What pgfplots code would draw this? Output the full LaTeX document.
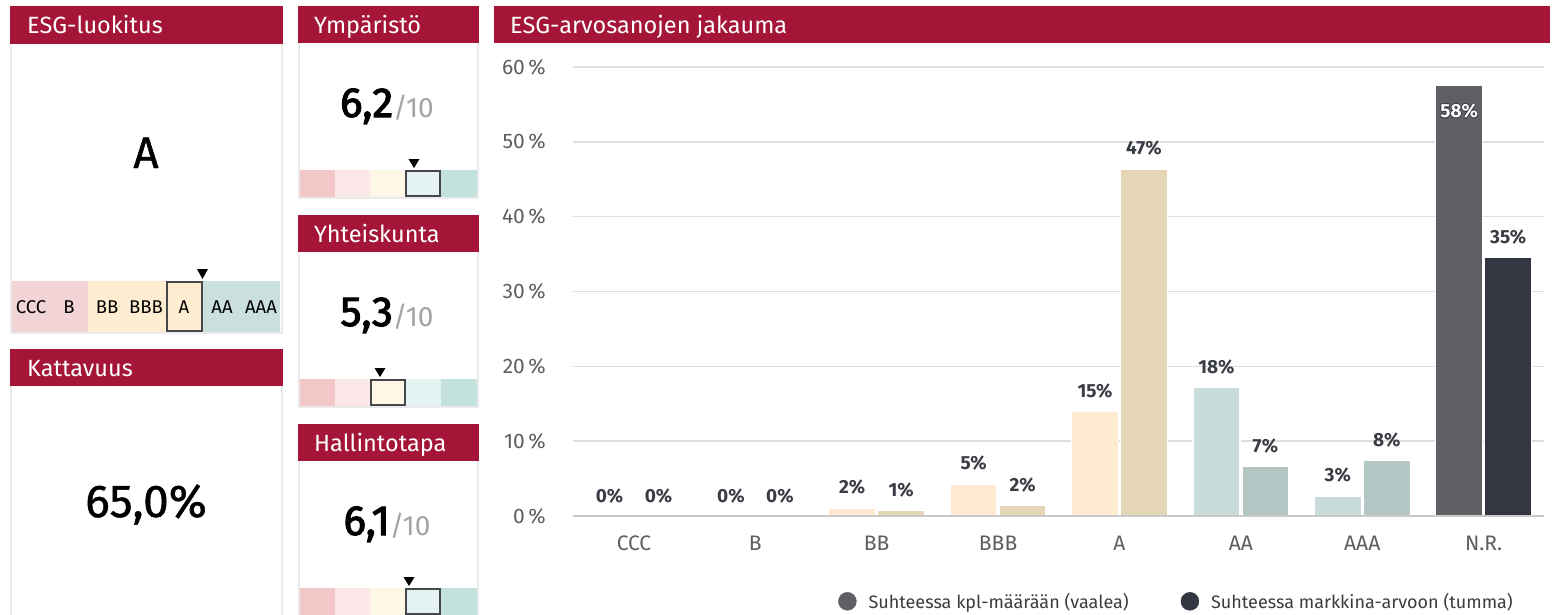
\documentclass[border=0pt]{standalone}
\usepackage{pgfplots}
\pgfplotsset{compat=1.18}
\usepackage{pgfplotstable}
\usepackage{fontspec}
\usepackage{contour}
\setmainfont{Fira Sans}
\newfontfamily\medfont[FakeBold=2.6]{Fira Sans}
\newfontfamily\bigfont[FakeBold=1]{Fira Sans}

\definecolor{crimson}{HTML}{A41538}
\definecolor{frame}{HTML}{EAEAEA}
\definecolor{gridc}{HTML}{DEDEDE}
\definecolor{basec}{HTML}{C9C9C9}
\definecolor{tickc}{HTML}{5E5E5E}
\definecolor{labc}{HTML}{393C44}
\definecolor{legc}{HTML}{3C3C3C}
\definecolor{creamL}{HTML}{FFEBCF}
\definecolor{creamD}{HTML}{E5D6B6}
\definecolor{tealL}{HTML}{C8DDDB}
\definecolor{tealD}{HTML}{B3C7C5}
\definecolor{nrL}{HTML}{5F5F65}
\definecolor{nrD}{HTML}{333741}
\definecolor{slash}{HTML}{A3A3A3}
\definecolor{boxc}{HTML}{45474C}
\definecolor{sPink}{HTML}{F3D4D6}
\definecolor{sCream}{HTML}{FFEDD1}
\definecolor{sTeal}{HTML}{CAE0DE}
\definecolor{sA}{HTML}{F3C6C8}
\definecolor{sB}{HTML}{FBE7E7}
\definecolor{sC}{HTML}{FFF7E5}
\definecolor{sD}{HTML}{E4F2F1}
\definecolor{sE}{HTML}{C3E1DD}

\newcommand\hdr{\fontsize{23.5}{26}\selectfont}
\newcommand\ticks{\fontsize{21}{24}\selectfont}
\newcommand\vals{\bfseries\fontsize{19}{22}\selectfont}
\newcommand\legf{\fontsize{18}{20}\selectfont}

% share of holdings per ESG rating, by count (light) and by market value (dark)
\pgfplotstableread{
x  light dark llab dlab
0  0     0    0    0
1  0     0    0    0
2  1.1   0.8  2    1
3  4.3   1.4  5    2
4  14.0  46.4 15   47
5  17.2  6.6  18   7
6  2.7   7.5  3    8
7  57.6  34.6 58   35
}\esgdata

% small score panel: top y, title, value, boxed segment left x, marker x
\newcommand\subpanel[5]{%
  \fill[crimson] (298,{-#1}) rectangle (479,{-#1-37});
  \node[anchor=base west, inner sep=0, text=white, font=\hdr] at (314,{-#1-27}) {#2};
  \draw[frame, line width=2] (299,{-#1-37}) -- (299,{-#1-192}) -- (477.5,{-#1-192}) -- (477.5,{-#1-37});
  \node[anchor=base, inner sep=0] at (387,{-#1-111})
    {{\medfont\fontsize{42}{46}\selectfont #3}{\fontsize{28}{32}\selectfont\color{slash}/10}};
  \fill[sA] (300,{-#1-164}) rectangle (335,{-#1-191});
  \fill[sB] (335,{-#1-164}) rectangle (370,{-#1-191});
  \fill[sC] (370,{-#1-164}) rectangle (405,{-#1-191});
  \fill[sD] (405,{-#1-164}) rectangle (441,{-#1-191});
  \fill[sE] (441,{-#1-164}) rectangle (477,{-#1-191});
  \draw[boxc, line width=1.8] (#4+1,{-#1-165}) rectangle (#4+35,{-#1-190});
  \fill (#5-5.5,{-#1-153}) -- (#5+5.5,{-#1-153}) -- (#5,{-#1-162}) -- cycle;
}

\begin{document}
\begin{tikzpicture}
\useasboundingbox (0,0) rectangle (1554pt,-614pt);
\clip (0,0) rectangle (1554pt,-614pt);
\fill[white] (0,0) rectangle (1554pt,-614pt);

\begin{scope}[x=1pt, y=1pt]
  % ESG-luokitus
  \fill[crimson] (10,-6) rectangle (283,-44);
  \node[anchor=base west, inner sep=0, text=white, font=\hdr] at (27,-33) {ESG-luokitus};
  \draw[frame, line width=2] (11,-44) -- (11,-333) -- (282,-333) -- (282,-44);
  \node[anchor=base, inner sep=0, font=\bigfont\fontsize{44}{48}\selectfont] at (146,-168) {A};
  \fill[sPink] (12,-281) rectangle (88,-332);
  \fill[sCream] (88,-281) rectangle (202,-332);
  \fill[sTeal] (202,-281) rectangle (280,-332);
  \draw[boxc, line width=1.8] (166.9,-282) rectangle (202,-331);
  \fill (197,-269) -- (208,-269) -- (202.5,-279) -- cycle;
  \foreach \lab/\xx in {CCC/31, B/69, BB/107, BBB/146, A/184, AA/222, AAA/261}
    \node[anchor=base, inner sep=0, font=\fontsize{18.5}{20}\selectfont] at (\xx,-313) {\lab};

  % Kattavuus
  \fill[crimson] (10,-349) rectangle (283,-386);
  \node[anchor=base west, inner sep=0, text=white, font=\hdr] at (27,-376) {Kattavuus};
  \draw[frame, line width=2] (11,-386) -- (11,-620) (282,-620) -- (282,-386);
  \node[anchor=base, inner sep=0, font=\bigfont\fontsize{46}{50}\selectfont] at (146,-517) {65,0\%};

  % sub-scores
  \subpanel{6}{Ympäristö}{6,2}{405}{414}
  \subpanel{215}{Yhteiskunta}{5,3}{370}{380}
  \subpanel{424}{Hallintotapa}{6,1}{405}{409}

  % chart header
  \fill[crimson] (494,-6) rectangle (1550,-43);
  \node[anchor=base west, inner sep=0, text=white, font=\hdr] at (510,-33) {ESG-arvosanojen jakauma};
\end{scope}

\begin{axis}[
  at={(573.3pt,-516pt)}, anchor=south west,
  scale only axis, width=971pt, height=449pt,
  xmin=-0.5, xmax=7.5, ymin=0, ymax=60,
  ybar, bar width=47pt,
  axis line style={draw=none}, tick style={draw=none},
  ytick={0,10,...,60},
  yticklabels={0\,\%,10\,\%,20\,\%,30\,\%,40\,\%,50\,\%,60\,\%},
  xtick={0,...,7},
  xticklabels={CCC,B,BB,BBB,A,AA,AAA,N.R.},
  ymajorgrids, grid style={gridc, line width=1.6pt},
  tick label style={font=\ticks, text=tickc},
  yticklabel style={xshift=-24pt},
  xticklabel style={yshift=-12pt},
  point meta=explicit symbolic,
  nodes near coords={\pgfplotspointmeta\%},
  every node near coord/.append style={font=\vals, text=labc, yshift=9pt},
  legend columns=2,
  legend style={draw=none, fill=none, inner sep=0pt, font=\legf, text=legc,
    at={(0.2726,-0.19)}, anchor=west,
    /tikz/every odd column/.append style={column sep=10pt},
    /tikz/every even column/.append style={column sep=50pt}},
  clip=false,
]
\addlegendimage{legend image code/.code={\fill[nrL] (9pt,0pt) circle (9pt);}}
\addlegendentry{Suhteessa kpl-määrään (vaalea)}
\addlegendimage{legend image code/.code={\fill[nrD] (9pt,0pt) circle (9pt);}}
\addlegendentry{Suhteessa markkina-arvoon (tumma)}

\addplot[forget plot, draw=none, fill=none, bar shift=-24.5pt, restrict x to domain=0:1]
  table[x=x, y=light, meta=llab] {\esgdata};
\addplot[forget plot, draw=none, fill=none, bar shift=24.5pt, restrict x to domain=0:1]
  table[x=x, y=dark, meta=dlab] {\esgdata};

\addplot[forget plot, fill=creamL, draw=white, line width=1.5pt, bar shift=-24.5pt, restrict x to domain=2:4]
  table[x=x, y=light, meta=llab] {\esgdata};
\addplot[forget plot, fill=creamD, draw=white, line width=1.5pt, bar shift=24.5pt, restrict x to domain=2:4]
  table[x=x, y=dark, meta=dlab] {\esgdata};

\addplot[forget plot, fill=tealL, draw=white, line width=1.5pt, bar shift=-24.5pt, restrict x to domain=5:6]
  table[x=x, y=light, meta=llab] {\esgdata};
\addplot[forget plot, fill=tealD, draw=white, line width=1.5pt, bar shift=24.5pt, restrict x to domain=5:6]
  table[x=x, y=dark, meta=dlab] {\esgdata};

\addplot[forget plot, fill=nrL, draw=white, line width=1.5pt, bar shift=-24.5pt, restrict x to domain=7:7,
  nodes near coords={\contour{labc}{\pgfplotspointmeta\%}},
  every node near coord/.append style={text=white, yshift=-47pt}]
  table[x=x, y=light, meta=llab] {\esgdata};
\addplot[forget plot, fill=nrD, draw=white, line width=1.5pt, bar shift=24.5pt, restrict x to domain=7:7]
  table[x=x, y=dark, meta=dlab] {\esgdata};

\draw[basec, line width=2pt] (axis cs:-0.5,0) -- (axis cs:7.5,0);
\end{axis}
\end{tikzpicture}
\end{document}
